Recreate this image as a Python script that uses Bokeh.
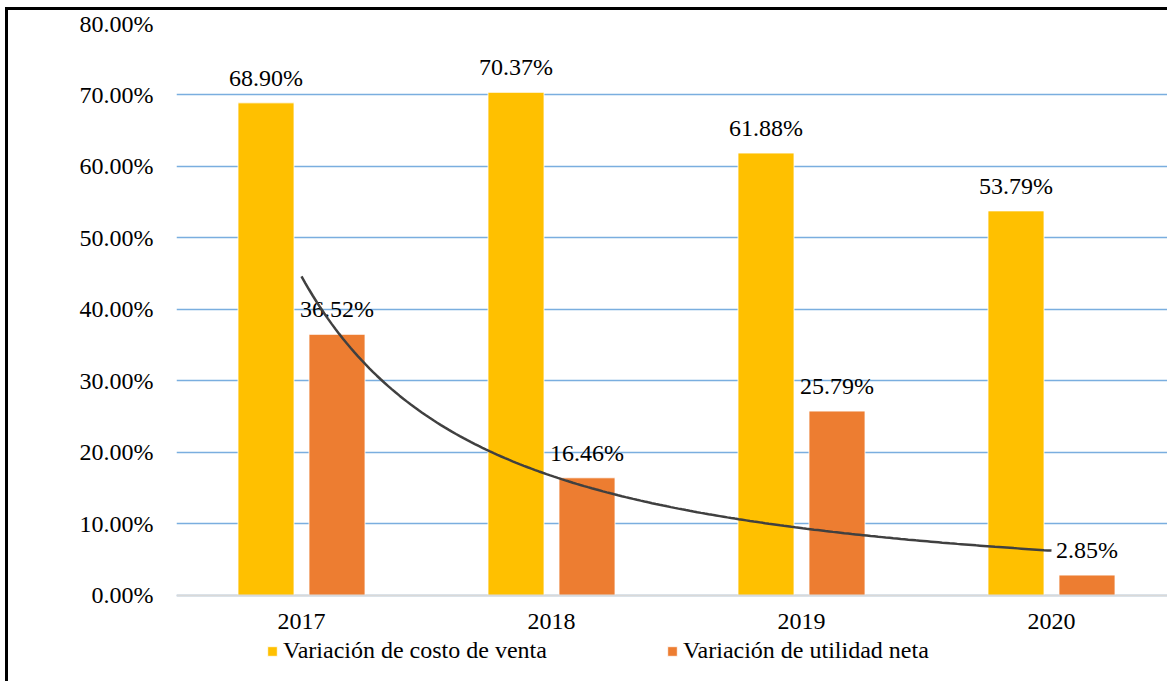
import numpy as np
from bokeh.plotting import figure
from bokeh.models import ColumnDataSource, FixedTicker, Legend, LegendItem, Range1d
from bokeh.core.properties import value
from bokeh.embed import file_html
from bokeh.resources import INLINE

# ---- data ----
years = ["2017", "2018", "2019", "2020"]
costo_venta = [68.90, 70.37, 61.88, 53.79]      # Variación de costo de venta (%)
utilidad_neta = [36.52, 16.46, 25.79, 2.85]     # Variación de utilidad neta (%)
y_ticks = [0, 10, 20, 30, 40, 50, 60, 70, 80]

FONT = "Liberation Serif"
FS = "24px"
YELLOW = "#FFC000"
ORANGE = "#ED7D31"

idx = np.arange(len(years), dtype=float)
off = 0.142
bw = 0.224

src_c = ColumnDataSource(dict(x=idx - off, top=costo_venta,
                              lab=[f"{v:.2f}%" for v in costo_venta]))
src_u = ColumnDataSource(dict(x=idx + off, top=utilidad_neta,
                              lab=[f"{v:.2f}%" for v in utilidad_neta]))

p = figure(width=1162, height=674, x_range=Range1d(-0.5, 3.476), y_range=Range1d(-12.45, 80),
           output_backend="svg", toolbar_location=None,
           min_border_left=168, min_border_right=0, min_border_top=13, min_border_bottom=0)
p.styles = {"border-left": "3px solid black", "border-top": "3px solid black",
            "margin-left": "5px", "margin-top": "7px"}
p.outline_line_color = None
p.background_fill_color = "white"
p.border_fill_color = "white"

# grid
p.xgrid.grid_line_color = None
p.ygrid.ticker = FixedTicker(ticks=y_ticks)
p.ygrid.grid_line_color = "#7AAEDF"
p.ygrid.grid_line_width = 1.5

# bars
r1 = p.vbar(x="x", top="top", width=bw, source=src_c, fill_color=YELLOW,
            line_color="white", line_width=0.8)
r2 = p.vbar(x="x", top="top", width=bw, source=src_u, fill_color=ORANGE,
            line_color="white", line_width=0.8)

# data labels
for s in (src_c, src_u):
    p.text(x="x", y="top", text="lab", source=s, text_align="center",
           text_baseline="alphabetic", y_offset=-25, text_color="black",
           text_font=value(FONT), text_font_size=FS)

# power trend line of the net-profit series (fitted from the data)
xn = idx + 1.0
b, lna = np.polyfit(np.log(xn), np.log(utilidad_neta), 1)
xs = np.linspace(1.0, 4.0, 200)
ys = np.exp(lna) * xs ** b
p.line(xs - 1.0, ys, line_color="#404040", line_width=2.5)

# axes
p.yaxis.ticker = FixedTicker(ticks=y_ticks)
p.yaxis.major_label_overrides = {t: f"{t:.2f}%" for t in y_ticks}
p.yaxis.axis_line_color = None
p.yaxis.major_tick_line_color = None
p.yaxis.minor_tick_line_color = None
p.yaxis.major_tick_out = 0
p.yaxis.major_label_standoff = 23
p.yaxis.major_label_text_font = FONT
p.yaxis.major_label_text_font_size = FS
p.yaxis.major_label_text_color = "black"

p.xaxis.fixed_location = 0
p.xaxis.ticker = FixedTicker(ticks=list(idx))
p.xaxis.major_label_overrides = {float(i): y for i, y in zip(idx, years)}
p.xaxis.major_label_overrides.update({int(i): y for i, y in zip(idx, years)})
p.xaxis.axis_line_color = "#D9D9D9"
p.xaxis.axis_line_width = 2
p.xaxis.major_tick_line_color = None
p.xaxis.minor_tick_line_color = None
p.xaxis.major_tick_out = 0
p.xaxis.major_label_standoff = 19
p.xaxis.major_label_text_font = FONT
p.xaxis.major_label_text_font_size = FS
p.xaxis.major_label_text_color = "black"

legend = Legend(items=[LegendItem(label="Variación de costo de venta", renderers=[r1]),
                       LegendItem(label="Variación de utilidad neta", renderers=[r2])],
                orientation="horizontal", location=(90, 20),
                glyph_width=12, glyph_height=12, label_standoff=5, spacing=119,
                padding=0, margin=0, border_line_color=None, background_fill_alpha=0,
                label_text_font=FONT, label_text_font_size=FS, label_text_color="black",
                label_height=26)
p.add_layout(legend)

open("out.html", "w").write(file_html(p, INLINE))
